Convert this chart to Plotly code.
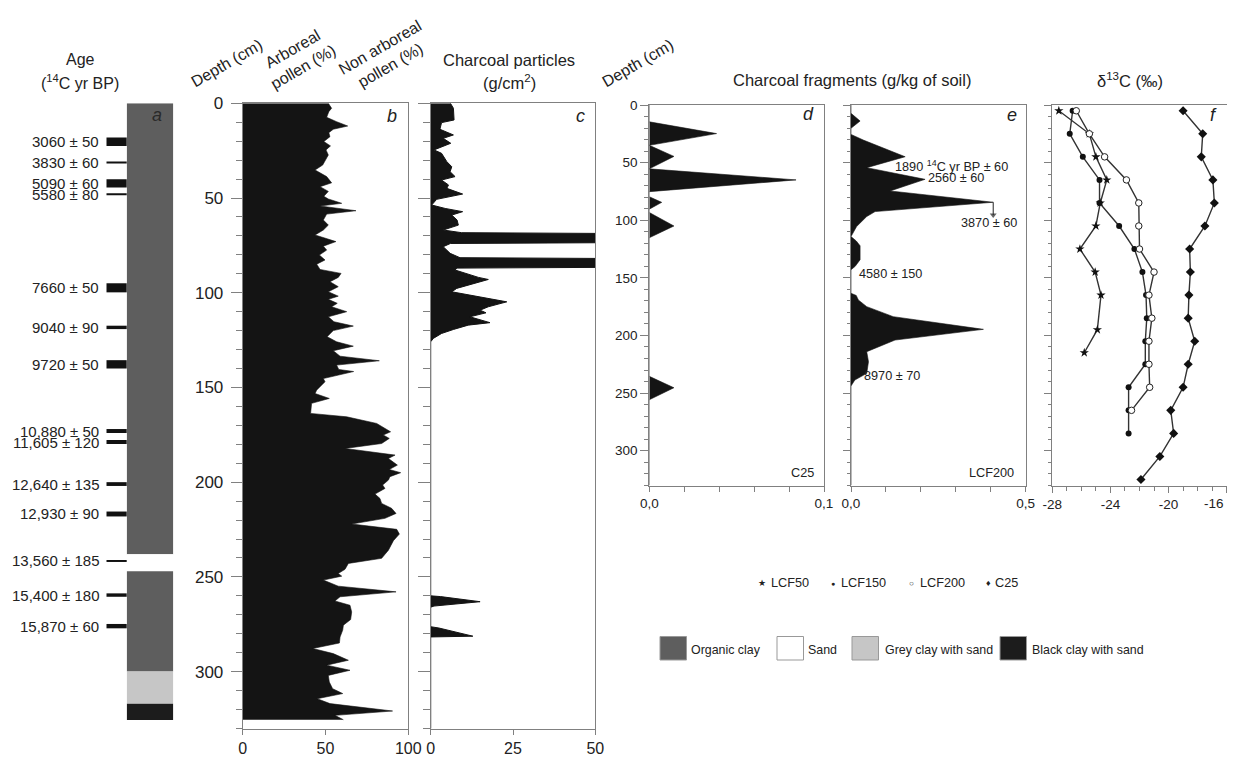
import plotly.graph_objects as go

# page body has an 8px margin: keep the figure inside the 1235x763 viewport
OFF = 8
W, H = 1227, 747
FONT = "Liberation Sans, Arial, sans-serif"
INK = "#222222"
AXC = "#808080"
FILL = "#141414"

# ---------------- data ----------------
# (a) lithology column
layer_names = ["Organic clay", "Sand", "Organic clay", "Grey clay with sand", "Black clay with sand"]
layer_top = [0, 238, 247, 300, 317]
layer_bottom = [238, 247, 300, 317, 325.6]
layer_colors = {"Organic clay": "#5e5e5e", "Sand": "#ffffff",
                "Grey clay with sand": "#c6c6c6", "Black clay with sand": "#1c1c1c"}

# radiocarbon dates: label, sample mid-depth (cm), sample thickness (cm)
date_labels = ["3060 ± 50", "3830 ± 60", "5090 ± 60", "5580 ± 80", "7660 ± 50", "9040 ± 90",
               "9720 ± 50", "10,880 ± 50", "11,605 ± 120", "12,640 ± 135", "12,930 ± 90",
               "13,560 ± 185", "15,400 ± 180", "15,870 ± 60"]
date_depth = [20.3, 31.3, 42.3, 48.0, 97.4, 118.3, 137.8, 173.0, 178.8, 201.0, 216.8,
              241.6, 259.6, 276.0]
date_thick = [4.4, 0.8, 4.4, 0.8, 4.8, 1.8, 4.4, 2.1, 2.1, 2.0, 2.6, 1.0, 1.8, 2.3]

# (b) arboreal pollen (%)
pollen_depth = [0, 2.6, 4.4, 7.4, 9.7, 12, 13.7, 15.5, 17.6, 20.2, 22.5, 24.6, 27.3, 29, 32.6,
                35.2, 38.7, 42, 44, 46.5, 49.1, 50.5, 52.8, 54.2, 56.7, 58.5, 61.6, 64.3, 66.9,
                69.5, 73, 75.4, 77.5, 80.1, 82.7, 84.9, 87.7, 89.8, 91.9, 94.2, 96.8, 99.5,
                101.8, 103.5, 105.6, 107.4, 110, 112.7, 115.3, 117.6, 120, 123.2, 125.9, 128.2,
                130.6, 133.5, 135.9, 138.2, 140.5, 141.6, 145.3, 147, 151.4, 153.2, 155.8,
                158.4, 163.7, 165.5, 169, 173.4, 175.1, 176.9, 179.6, 182.2, 185.7, 187.5, 191,
                193.3, 195, 197.1, 198.9, 201.5, 203.3, 206.3, 208.6, 211.2, 213.8, 216.5,
                219.1, 222.1, 224.9, 227.4, 230.9, 235.9, 240.2, 242.9, 246, 248.2, 249.6,
                251.7, 254.9, 257.9, 260.5, 262.7, 265, 268.5, 272.5, 275.5, 278.1, 281.7,
                284.9, 287.8, 290.5, 294, 296.6, 299.3, 302, 305.5, 309, 311.6, 314.3, 316.9,
                320.8, 323.1, 325.4]
arboreal_pct = [51.7, 53.7, 52, 50.7, 56.7, 63.4, 54.7, 52, 52.7, 49, 53, 50.3, 51.7, 50.7, 48.3,
                43.7, 50.7, 53.7, 46.7, 51.7, 49, 51.7, 59.8, 46.7, 68.4, 50.7, 48.7, 51.7, 48.7,
                43.7, 56.3, 48.7, 50.7, 46.3, 49.7, 44.7, 46.7, 59.4, 57.7, 52.7, 57.7, 51.7,
                57.7, 51.7, 57.1, 53.7, 62.8, 51.7, 55.1, 66.8, 54.7, 51, 56.7, 66.8,
                54.7, 58.8, 82.5, 56.7, 58, 67, 48.7, 49.7, 44.7, 43.7, 52.3,
                41.6, 41, 62.8, 80.9, 89.3, 84.9, 88.5, 83.9, 61.8, 92, 88, 93.4,
                88.5, 95.4, 88.9, 88, 84.5, 85.9, 79.9, 82.9, 83.9, 89.9, 92.6,
                85.9, 65.8, 93, 94.6, 91, 88, 83.9, 63.8, 61.8, 57.7, 59.8,
                48.7, 57.7, 92.6, 58.8, 55.7, 64.8, 65.8, 65.2, 60.8, 60.4, 58.8,
                58.4, 42.3, 54.7, 63.8, 50.7, 64.8, 51.7, 52.3, 54.3, 60.4, 45, 52.7,
                90.5, 55.7, 60.8]

# (c) charcoal particles (g/cm2)
particle_depth = [0, 2.6, 8.8, 10.2, 13.7, 16.7, 18.5, 21.1, 24.6, 26.4, 30.8, 33.5, 36.1, 38.7,
                  40.5, 43.1, 44.9, 47.9, 50.7, 53.7, 55.5, 57.2, 59, 61.6, 64.3, 66.9, 68.3,
                  68.7, 73.6, 74, 75.7, 79.2, 81.5, 81.9, 86.6, 87, 88, 89.8, 91.9, 93, 95.1,
                  97.7, 99.5, 102.1, 104.8, 107.4, 109.2, 110.6, 112.7, 115.8, 117.1, 119.4,
                  121.5, 124.1, 125.9, 260, 260.4, 263.1, 265.4, 266, 276.3, 277, 281.3, 281.7,
                  330]
particle_val = [6, 6.9, 7.1, 3.3, 2.8, 6.9, 3.8, 6.1, 1, 3.3, 4.9, 6.4, 5.9, 7.4,
                3.3, 5.4, 4.9, 9.7, 1.8, 0.3, 4.4, 9.7, 6.4, 8, 8.4, 3.8, 9.4,
                52, 52, 6, 3.8, 5.9, 8.9, 52, 52, 8, 7.4, 10.4, 14.5, 17.5, 13,
                7.9, 6.4, 14.5, 23.1, 17.5, 15, 16.8, 11.9, 18, 11.4, 6.9,
                3.3, 0.8, 0, 0, 3, 15, 1, 0, 0, 2.5, 12.8, 0,
                0]

# (d) charcoal fragments, core C25 (g/kg)
c25_depth = [0, 14.6, 24.8, 35, 44.6, 54.8, 55.4, 65, 75.2, 79.6, 84.5, 90.4, 93.3, 105, 115.2,
             235.5, 245.4, 255.8, 330]
c25_frag = [0, 0, 0.0385, 0, 0.0141, 0, 0, 0.084, 0, 0, 0.0071, 0, 0, 0.0141, 0,
            0, 0.0141, 0, 0]

# (e) charcoal fragments, core LCF200 (g/kg)
lcf200_depth = [0, 7.2, 13.9, 20.2, 25.5, 30.4, 44.9, 54.4, 64.5, 74.6, 84.4, 92.5, 96.8, 105.5,
                114.2, 118, 122.2, 134.3, 140, 143, 163.4, 165.3, 169.2, 175, 183.7, 194.7,
                204, 214.1, 222.8, 232.9, 238.7, 243.9, 330]
lcf200_frag = [0, 0, 0.026, 0, 0, 0.035, 0.155, 0.045, 0.212, 0.112, 0.407, 0.069, 0.045, 0.016,
               0, 0.015, 0.026, 0.026, 0.012, 0, 0, 0.015, 0.021, 0.045, 0.121, 0.379,
               0.126, 0.045, 0.05, 0.045, 0.011, 0, 0]

# (f) delta 13C (per mil)
d13c_lcf50_depth = [5, 25, 45, 65, 85, 105, 125, 145, 165, 195, 215]
d13c_lcf50 = [-27.55, -25.45, -25.0, -24.25, -24.7, -25.0, -26.1, -25.05, -24.65, -24.9, -25.8]
d13c_lcf150_depth = [5, 25, 45, 65, 85, 105, 125, 145, 165, 185, 205, 225, 245, 265, 285]
d13c_lcf150 = [-26.6, -26.8, -25.9, -24.75, -24.75, -23.4, -22.35, -21.8, -21.55, -21.5, -21.6,
               -21.6, -22.75, -22.75, -22.75]
d13c_lcf200_depth = [5, 25, 45, 65, 85, 105, 125, 145, 165, 185, 205, 225, 245, 265]
d13c_lcf200 = [-26.35, -25.45, -24.4, -22.9, -22.05, -22.05, -22.0, -21.0, -21.35, -21.15, -21.35,
               -21.35, -21.3, -22.55]
d13c_c25_depth = [5, 25, 45, 65, 85, 105, 125, 145, 165, 185, 205, 225, 245, 265, 285, 305, 325]
d13c_c25 = [-19.0, -17.65, -17.75, -16.95, -16.85, -17.5, -18.55, -18.5, -18.6, -18.65, -18.2,
            -18.65, -19.0, -19.85, -19.65, -20.6, -21.9]
d13c_ticks = [-28, -24, -20, -16]

# panel e radiocarbon notes: text, value, depth
e_notes = [("1890 <sup>14</sup>C yr BP ± 60", 0.12, 52.9),
           ("2560 ± 60", 0.215, 63.4),
           ("3870 ± 60", 0.309, 102.4),
           ("4580 ± 150", 0.017, 146.7),
           ("8970 ± 70", 0.031, 235.2)]
# the 3870 date points from the main peak down to its sample depth
e_arrow_tip_depth = 95.5


# ---------------- layout helpers (pixel positions of the 1235x763 picture) ----------------
def fx(p):
    return (p - OFF) / W


def fy(p):
    return 1 - (p - OFF) / H


DOM_TOP = [fy(729), fy(103.3)]
DOM_BOT = [fy(485.7), fy(105)]
RANGE_TOP = [330.3, 0]
RANGE_BOT = [330.4, 0]

fig = go.Figure()

# (a) lithology column
fig.add_trace(go.Bar(
    x=[0] * len(layer_top),
    y=[b - t for t, b in zip(layer_top, layer_bottom)],
    base=layer_top, width=1,
    marker=dict(color=[layer_colors[n] for n in layer_names], line=dict(width=0)),
    xaxis="x", yaxis="y", showlegend=False, hoverinfo="skip"))

# (b) pollen
fig.add_trace(go.Scatter(x=arboreal_pct, y=pollen_depth, mode="lines", fill="tozerox",
                         fillcolor=FILL, line=dict(color=FILL, width=0.6),
                         xaxis="x2", yaxis="y2", showlegend=False))
# (c) particles
fig.add_trace(go.Scatter(x=particle_val, y=particle_depth, mode="lines", fill="tozerox",
                         fillcolor=FILL, line=dict(color=FILL, width=1),
                         xaxis="x3", yaxis="y3", showlegend=False))
# (d) C25 fragments
fig.add_trace(go.Scatter(x=c25_frag, y=c25_depth, mode="lines", fill="tozerox",
                         fillcolor=FILL, line=dict(color=FILL, width=0.6),
                         xaxis="x4", yaxis="y4", showlegend=False))
# (e) LCF200 fragments
fig.add_trace(go.Scatter(x=lcf200_frag, y=lcf200_depth, mode="lines", fill="tozerox",
                         fillcolor=FILL, line=dict(color=FILL, width=0.6),
                         xaxis="x5", yaxis="y5", showlegend=False))
# arrow below the main LCF200 peak
peak_i = lcf200_frag.index(max(lcf200_frag))
fig.add_trace(go.Scatter(x=[lcf200_frag[peak_i]] * 2, y=[lcf200_depth[peak_i], e_arrow_tip_depth],
                         mode="lines+markers", line=dict(color="#222", width=1),
                         marker=dict(symbol=["line-ew", "triangle-down"], size=[1, 6], color="#222",
                                     line=dict(width=0)),
                         xaxis="x5", yaxis="y5", showlegend=False, cliponaxis=False))

# (f) delta 13C
series_f = [
    (d13c_lcf50, d13c_lcf50_depth, dict(symbol="star", size=7, color="#111")),
    (d13c_lcf150, d13c_lcf150_depth, dict(symbol="circle", size=6, color="#111")),
    (d13c_lcf200, d13c_lcf200_depth, dict(symbol="circle", size=6.5, color="#ffffff",
                                          line=dict(color="#222", width=1))),
    (d13c_c25, d13c_c25_depth, dict(symbol="diamond", size=7, color="#111")),
]
for vals, deps, mk in series_f:
    fig.add_trace(go.Scatter(x=vals, y=deps, mode="lines+markers",
                             line=dict(color="#333", width=1.4), marker=mk,
                             xaxis="x6", yaxis="y6", showlegend=False))


def depth_axis(domain, rng, anchor, labels, font_size, major_len, minor_len):
    return dict(domain=domain, range=rng, anchor=anchor, showgrid=False, zeroline=False,
                automargin=False,
                showline=True, linecolor=AXC, linewidth=1, mirror=True,
                ticks="outside", ticklen=major_len, tickcolor=AXC, tickwidth=1,
                tick0=0, dtick=50, showticklabels=labels,
                tickfont=dict(size=font_size, color=INK, family=FONT),
                minor=dict(ticks="outside", ticklen=minor_len, tickcolor=AXC, tickwidth=1,
                           dtick=10, tick0=0, showgrid=False))


def value_axis(domain, rng, anchor, tickvals, ticktext, font_size, ticklen, minor=None,
               overflow="allow"):
    d = dict(domain=domain, range=rng, anchor=anchor, showgrid=False, zeroline=False,
             automargin=False, ticklabeloverflow=overflow,
             showline=True, linecolor=AXC, linewidth=1, mirror=True,
             ticks="outside", ticklen=ticklen, tickcolor=AXC, tickwidth=1,
             tickvals=tickvals, ticktext=ticktext,
             tickfont=dict(size=font_size, color=INK, family=FONT))
    if minor:
        d["minor"] = minor
    return d


layout = dict(
    width=W, height=H, margin=dict(l=0, r=0, t=0, b=0, pad=0, autoexpand=False),
    paper_bgcolor="white", plot_bgcolor="white", barmode="overlay", showlegend=False,
    font=dict(family=FONT, color=INK),
    xaxis=dict(domain=[fx(126.7), fx(173.3)], range=[-0.5, 0.5], visible=False, anchor="y",
               automargin=False),
    yaxis=dict(domain=DOM_TOP, range=RANGE_TOP, visible=False, anchor="x", automargin=False),
    xaxis2=value_axis([fx(242.7), fx(408.3)], [0, 100], "y2", [0, 50, 100], ["0", "50", "100"], 16, 5),
    yaxis2=depth_axis(DOM_TOP, RANGE_TOP, "x2", True, 17, 11, 6),
    xaxis3=value_axis([fx(430.7), fx(595.3)], [0, 50], "y3", [0, 25, 50], ["0", "25", "50"], 16, 5),
    yaxis3=depth_axis(DOM_TOP, RANGE_TOP, "x3", False, 17, 12, 7),
    xaxis4=value_axis([fx(649.3), fx(824.0)], [0, 0.1], "y4", [0, 0.1], ["0,0", "0,1"], 13.5, 5,
                      minor=dict(ticks="outside", ticklen=5, tickcolor=AXC, dtick=0.02, tick0=0)),
    yaxis4=depth_axis(DOM_BOT, RANGE_BOT, "x4", True, 13.5, 8, 4),
    xaxis5=value_axis([fx(851.0), fx(1025.7)], [0, 0.5], "y5", [0, 0.5], ["0,0", "0,5"], 13.5, 5,
                      minor=dict(ticks="outside", ticklen=5, tickcolor=AXC, dtick=0.1, tick0=0)),
    yaxis5=depth_axis(DOM_BOT, RANGE_BOT, "x5", False, 13.5, 7, 3.5),
    xaxis6=value_axis([fx(1052.3), fx(1226.7)], [-28, -16], "y6",
                      d13c_ticks, [str(t) for t in d13c_ticks], 13.5, 6,
                      minor=dict(ticks="outside", ticklen=4, tickcolor=AXC, dtick=1, tick0=-28),
                      overflow="hide past div"),
    yaxis6=depth_axis(DOM_BOT, RANGE_BOT, "x6", False, 13.5, 7, 3.5),
)
layout["yaxis2"]["ticklabelstandoff"] = 4
fig.update_layout(**layout)

annotations = []
shapes = []


def ann(text, x, y, size=15, xanchor="center", yanchor="middle", angle=0, color=INK, align="center"):
    annotations.append(dict(text=text, x=min(fx(x), 1.0), y=fy(y), xref="paper", yref="paper",
                            showarrow=False, xanchor=xanchor, yanchor=yanchor, textangle=angle,
                            align=align, font=dict(size=size, color=color, family=FONT)))


# date markers and labels for column a
px_per_cm = (729 - 103.3) / 330.3
for lab, dep, th in zip(date_labels, date_depth, date_thick):
    shapes.append(dict(type="line", xref="paper", yref="y", x0=fx(106.5), x1=fx(126.7),
                       y0=dep, y1=dep, line=dict(color="#111", width=max(2.0, th * px_per_cm))))
    annotations.append(dict(text=lab, x=fx(101), y=dep, xref="paper", yref="y", showarrow=False,
                            xanchor="right", yanchor="middle",
                            font=dict(size=15, color=INK, family=FONT)))

# panel e notes
for txt, v, dep in e_notes:
    annotations.append(dict(text=txt, x=v, y=dep, xref="x5", yref="y5", showarrow=False,
                            xanchor="left", yanchor="middle",
                            font=dict(size=12.7, color=INK, family=FONT)))

# last delta13C tick label sits on the picture's right edge
ann(str(d13c_ticks[-1]), 1226, 503, 13.5, xanchor="right")

# titles
ann("Age", 80, 60, 16)
ann("(<sup>14</sup>C yr BP)", 80, 82, 16)
ann("Depth (cm)", 226, 63, 16, angle=-30)
ann("Arboreal<br>pollen (%)", 298, 58, 16, angle=-30)
ann("Non arboreal<br>pollen (%)", 386, 56, 16, angle=-30)
ann("Charcoal particles", 509, 60, 16.5)
ann("(g/cm<sup>2</sup>)", 509, 82, 16.5)
ann("Depth (cm)", 637, 63, 16, angle=-30)
ann("Charcoal fragments (g/kg of soil)", 852, 80, 16.5)
ann("δ<sup>13</sup>C (‰)", 1130, 80, 16.5)

# panel letters
for letter, x, y, col in [("a", 156.7, 115, "#2a2a2a"), ("b", 391.7, 116, INK), ("c", 580.7, 116, INK),
                          ("d", 808, 114, INK), ("e", 1011.7, 115, INK), ("f", 1213, 115, INK)]:
    ann("<i>" + letter + "</i>", x, y, 18, color=col)

ann("C25", 816, 473, 12.7, xanchor="right")
ann("LCF200", 1016, 473, 12.7, xanchor="right")

# legend for delta 13C markers
for glyph, gsize, gx, name, tx in [("★", 9, 762, "LCF50", 769), ("●", 7, 833, "LCF150", 839),
                                   ("○", 8, 912, "LCF200", 918), ("♦", 9, 988, "C25", 993)]:
    ann(glyph, gx, 583, gsize)
    ann(name, tx, 583, 12.7, xanchor="left")

# legend for lithology
for name, x0, tx in [("Organic clay", 660, 689), ("Sand", 777, 806),
                     ("Grey clay with sand", 852, 883), ("Black clay with sand", 1000, 1030)]:
    shapes.append(dict(type="rect", xref="paper", yref="paper", x0=fx(x0), x1=fx(x0 + 26.5),
                       y0=fy(660), y1=fy(636.5), fillcolor=layer_colors[name],
                       line=dict(color="#999", width=1)))
    ann(name, tx, 650, 12.4, xanchor="left")

fig.update_layout(annotations=annotations, shapes=shapes)
fig.write_html("out.html")
